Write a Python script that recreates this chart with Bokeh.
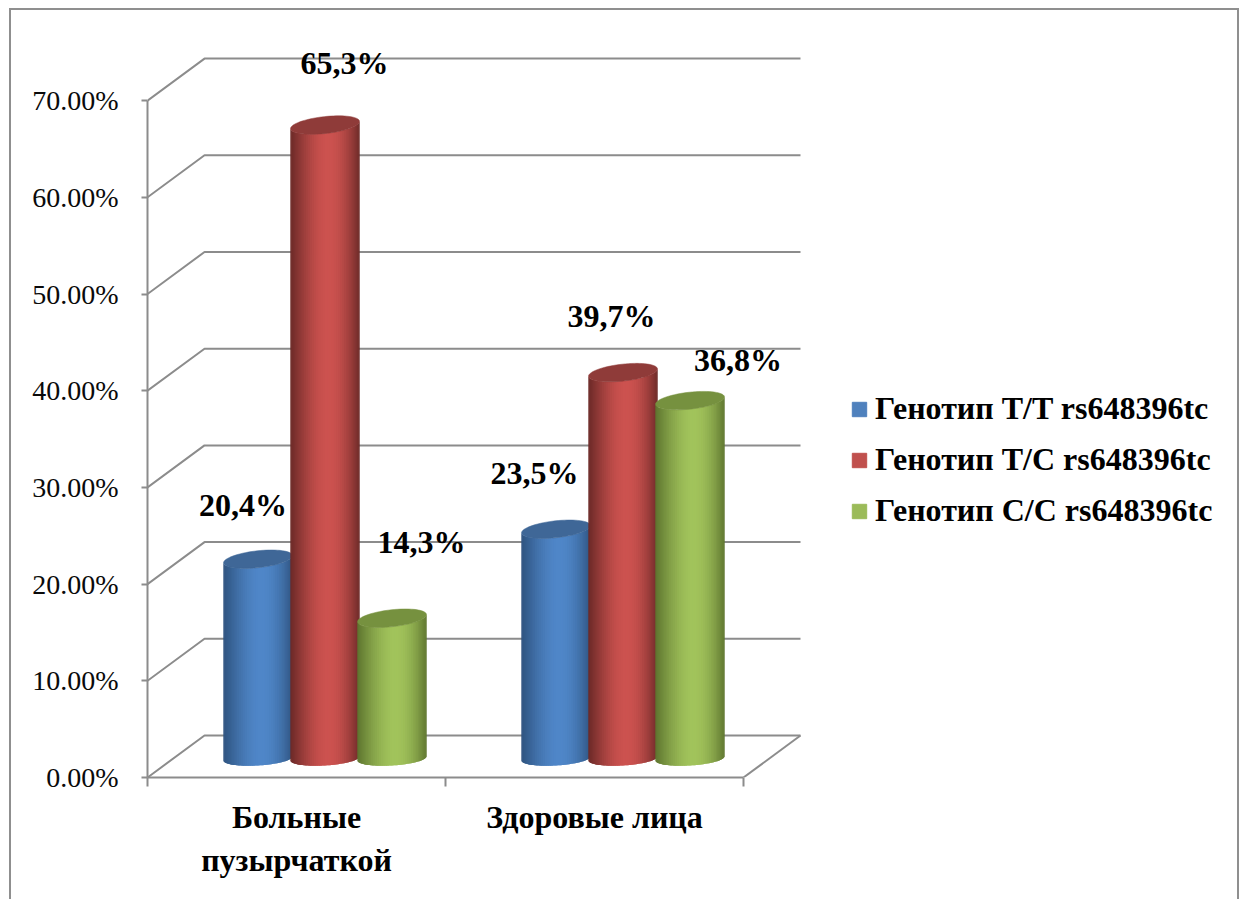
import numpy as np
from bokeh.core.properties import value
from bokeh.embed import file_html
from bokeh.models import (ColumnDataSource, FixedTicker, InlineStyleSheet, Legend, LegendItem,
                          LinearAxis, PrintfTickFormatter, Range1d)
from bokeh.plotting import figure
from bokeh.resources import INLINE

# Chart content
categories = ["Больные\nпузырчаткой", "Здоровые лица"]
series_names = ["Генотип T/T rs648396tc", "Генотип T/C rs648396tc", "Генотип C/C rs648396tc"]
tt_values = [20.4, 23.5]
tc_values = [65.3, 39.7]
cc_values = [14.3, 36.8]
value_labels = [["20,4%", "23,5%"], ["65,3%", "39,7%"], ["14,3%", "36,8%"]]
y_ticks = [0, 10, 20, 30, 40, 50, 60, 70]

# Series colours: (shadow edge, lit centre, cap, legend swatch)
palette = [
    ("#2f5480", "#4f86c8", "#3f6797", "#4f81bd"),
    ("#6c2a28", "#cc524f", "#8f3b39", "#c0504d"),
    ("#5f7630", "#a1c35b", "#76913f", "#9bbb59"),
]

# Plot geometry
WIDTH, HEIGHT = 1242, 899
FRAME_LEFT, FRAME_BOTTOM = 147, 777
PX_PER_CAT = 298.0
PX_PER_PCT = 9.67
DEPTH_X = 57 / PX_PER_CAT       # depth of the floor, in category units
DEPTH_Y = 42 / PX_PER_PCT       # depth of the floor, in percentage points
BAR_STEP = 67 / PX_PER_CAT
BAR_HALF = 34.5 / PX_PER_CAT
CAP_B = 8.5 / PX_PER_PCT
CAP_SLOPE = (7 / 67) * (PX_PER_CAT / PX_PER_PCT)
BASE_B = 7.0 / PX_PER_PCT
BASE_SLOPE = (4 / 67) * (PX_PER_CAT / PX_PER_PCT)
BASE_Y = 19 / PX_PER_PCT
N_STRIPS = 48
GRID = "#8c8c8c"

# Pixel offsets of the value labels from the centre of each bar's cap
label_dx = [[-15, -21.5], [19.5, -11.5], [29.5, 48]]
label_dy = [[54.5, 56.6], [62, 57], [76, 41]]

# Thin frame round the whole chart, drawn over the canvas margins
frame_css = InlineStyleSheet(css="""
:host::after {
  content: ""; position: absolute; left: 9px; top: 8px; right: 3px; bottom: -6px;
  border: 2px solid #8f8f8f; pointer-events: none;
}
""")

p = figure(width=WIDTH, height=HEIGHT, output_backend="svg", toolbar_location=None,
           x_range=Range1d(0, (WIDTH - FRAME_LEFT) / PX_PER_CAT),
           y_range=Range1d(0, FRAME_BOTTOM / PX_PER_PCT),
           x_axis_type=None, y_axis_type=None,
           min_border_left=FRAME_LEFT, min_border_right=0, min_border_top=0,
           min_border_bottom=HEIGHT - FRAME_BOTTOM, stylesheets=[frame_css])
p.grid.visible = False
p.outline_line_color = None
p.background_fill_color = "white"
p.border_fill_color = "white"

# Value axis
y_axis = LinearAxis(ticker=FixedTicker(ticks=y_ticks),
                    formatter=PrintfTickFormatter(format="%.2f%%"), bounds=(0, 70))
y_axis.axis_line_color = GRID
y_axis.axis_line_width = 2
y_axis.major_tick_line_color = GRID
y_axis.major_tick_line_width = 2
y_axis.major_tick_out = 6
y_axis.major_tick_in = 0
y_axis.minor_tick_out = 0
y_axis.minor_tick_in = 0
y_axis.major_label_standoff = 23
y_axis.major_label_text_font = "Liberation Serif"
y_axis.major_label_text_font_size = "28px"
y_axis.major_label_text_color = "#0a0a0a"
p.add_layout(y_axis, "left")

# Category axis: labels on the major ticks, separators on the minor ones
x_axis = LinearAxis(ticker=FixedTicker(ticks=[0.5, 1.5], minor_ticks=[0, 1, 2]), bounds=(0, 2))
x_axis.major_label_overrides = {0.5: categories[0], 1.5: categories[1]}
x_axis.axis_line_color = GRID
x_axis.axis_line_width = 2
x_axis.major_tick_out = 0
x_axis.major_tick_in = 0
x_axis.minor_tick_out = 9
x_axis.minor_tick_in = 0
x_axis.minor_tick_line_color = GRID
x_axis.minor_tick_line_width = 2
x_axis.major_label_standoff = 12
x_axis.major_label_text_font = "Liberation Serif"
x_axis.major_label_text_font_style = "bold"
x_axis.major_label_text_font_size = "32px"
x_axis.major_label_text_color = "black"
x_axis.major_label_orientation = "horizontal"
p.add_layout(x_axis, "below")

# Walls: each level runs back from the axis, then across the rear wall
wall_xs = [[0, DEPTH_X, 2 + DEPTH_X] for _ in y_ticks]
wall_ys = [[t, t + DEPTH_Y, t + DEPTH_Y] for t in y_ticks]
p.multi_line(wall_xs, wall_ys, line_color=GRID, line_width=2)
p.line([2, 2 + DEPTH_X], [0, DEPTH_Y], line_color=GRID, line_width=2)


def mix(a, b, t):
    ca = [int(a[i:i + 2], 16) for i in (1, 3, 5)]
    cb = [int(b[i:i + 2], 16) for i in (1, 3, 5)]
    return "#%02x%02x%02x" % tuple(round(x + (y - x) * t) for x, y in zip(ca, cb))


def cylinder(cx, height, colors):
    edge, lit, cap, _ = colors
    top = height + DEPTH_Y / 2
    offs = -BAR_HALF * np.cos(np.linspace(0, np.pi, N_STRIPS + 1))
    root = np.sqrt(np.clip(1 - (offs / BAR_HALF) ** 2, 0, 1))
    upper = top + CAP_SLOPE * offs - CAP_B * root
    lower = BASE_Y + BASE_SLOPE * offs - BASE_B * root

    # Side of the cylinder as narrow strips, painted left to right; each one
    # runs under its neighbour so that no seams show between them
    xs, ys, fills = [], [], []
    for i in range(N_STRIPS):
        j = min(i + 2, N_STRIPS)
        xs.append(list(cx + offs[i:j + 1]) + list(cx + offs[i:j + 1])[::-1])
        ys.append(list(lower[i:j + 1]) + list(upper[i:j + 1])[::-1])
        u = (offs[i] + offs[i + 1]) / (2 * BAR_HALF) * 0.5 + 0.5
        shifted = u ** 1.15   # the highlight sits a little right of centre
        fills.append(mix(edge, lit, np.sin(np.pi * shifted) ** 0.9))
    p.patches(xs, ys, fill_color=fills, line_color=None)

    # Cap
    t = np.linspace(0, 2 * np.pi, 72)
    cap_off = BAR_HALF * np.cos(t)
    p.patch(cx + cap_off, top + CAP_SLOPE * cap_off + CAP_B * np.sin(t),
            fill_color=cap, line_color=cap, line_width=0.5)
    return top


series_values = [tt_values, tc_values, cc_values]
lab_x, lab_y, lab_text, lab_dx, lab_dy = [], [], [], [], []
for s, values in enumerate(series_values):
    for c, v in enumerate(values):
        centre = c + 0.5 + DEPTH_X / 2 + (s - 1) * BAR_STEP
        cap_y = cylinder(centre, v, palette[s])
        lab_x.append(centre)
        lab_y.append(cap_y)
        lab_text.append(value_labels[s][c])
        lab_dx.append(label_dx[s][c])
        lab_dy.append(-label_dy[s][c])

labels = ColumnDataSource(dict(x=lab_x, y=lab_y, text=lab_text, dx=lab_dx, dy=lab_dy))
p.text("x", "y", text="text", source=labels, x_offset="dx", y_offset="dy",
       text_align="center", text_baseline="middle", text_color="black",
       text_font=value("Liberation Serif"), text_font_style="bold", text_font_size="32px")

# Legend swatches: renderers with no visible extent, in the series colours
items = []
nan = float("nan")
for name, colors in zip(series_names, palette):
    r = p.quad(left=[nan], right=[nan], top=[nan], bottom=[nan],
               fill_color=colors[3], line_color=colors[3])
    items.append(LegendItem(label=value(name), renderers=[r]))
legend = Legend(items=items, location=(703, 248), orientation="vertical",
                glyph_width=18, glyph_height=18, label_standoff=7, spacing=14,
                label_height=32, margin=0, padding=0,
                background_fill_alpha=0, border_line_color=None,
                label_text_font="Liberation Serif", label_text_font_style="bold",
                label_text_font_size="32px", label_text_color="black")
p.add_layout(legend)

open("out.html", "w").write(file_html(p, INLINE))
